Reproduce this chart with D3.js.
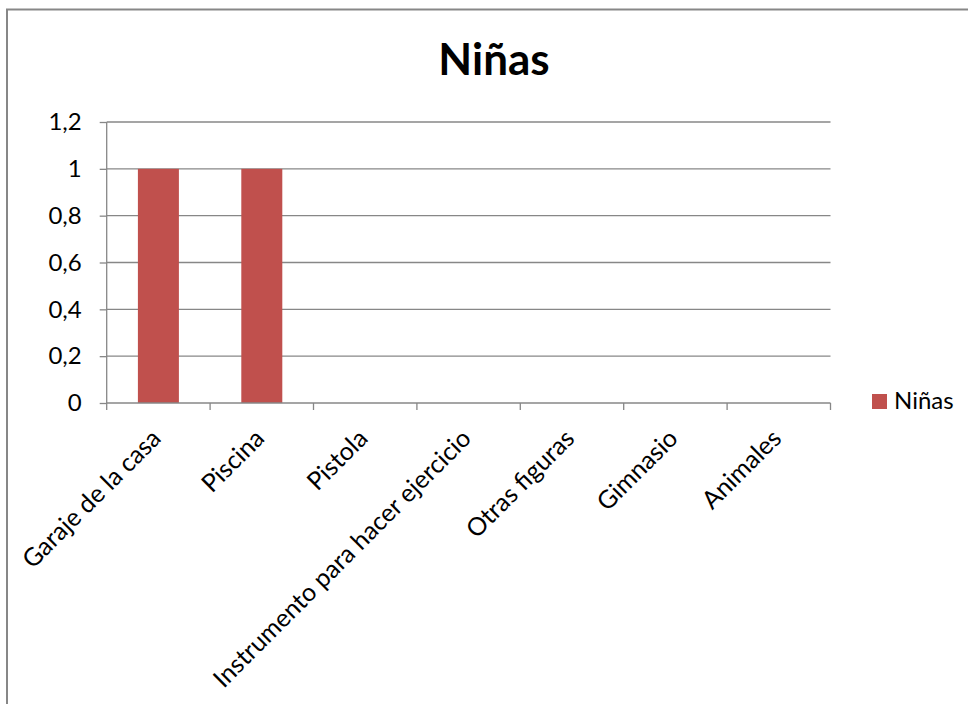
<!DOCTYPE html>
<html>
<head>
<meta charset="utf-8">
<script src="https://cdn.jsdelivr.net/npm/d3@7/dist/d3.min.js"></script>
<style>
  html, body { margin: 0; padding: 0; background: #fff; }
  svg { display: block; font-family: Lato, "Open Sans", sans-serif; }
</style>
</head>
<body>
<svg id="chart" width="968" height="704"></svg>
<script>
const title = "Niñas";
const seriesName = "Niñas";
const categories = ["Garaje de la casa", "Piscina", "Pistola", "Instrumento para hacer ejercicio", "Otras figuras", "Gimnasio", "Animales"];
const values = [1, 1, 0, 0, 0, 0, 0];
const yTicks = [0, 0.2, 0.4, 0.6, 0.8, 1, 1.2];
const yTickLabels = ["0", "0,2", "0,4", "0,6", "0,8", "1", "1,2"];

const svg = d3.select("#chart");
const gray = "#878787";
const barColor = "#C0504D";

// outer border
svg.append("rect").attr("x", 7).attr("y", 9.5).attr("width", 1000).attr("height", 800)
  .attr("fill", "none").attr("stroke", gray).attr("stroke-width", 2);

const x = d3.scaleBand().domain(categories).range([106.7, 830.5]).paddingInner(0).paddingOuter(0);
const y = d3.scaleLinear().domain([0, 1.2]).range([403, 122]);

// gridlines
svg.append("g").selectAll("line").data(yTicks.filter(d => d > 0)).join("line")
  .attr("x1", 106.7).attr("x2", 830.5)
  .attr("y1", d => y(d)).attr("y2", d => y(d))
  .attr("stroke", gray).attr("stroke-width", 1.3);

// y axis
const yAxis = d3.axisLeft(y).tickValues(yTicks).tickSize(7).tickPadding(18)
  .tickFormat((d, i) => yTickLabels[i]);
const gy = svg.append("g").attr("transform", "translate(106.7,0)").call(yAxis);
gy.select(".domain").attr("stroke", gray).attr("stroke-width", 1.3).attr("d", `M0,${y(1.2)}V${y(0)}`);
gy.selectAll(".tick line").attr("stroke", gray).attr("stroke-width", 1.3);
gy.selectAll(".tick text").attr("font-size", 24).attr("fill", "#000").attr("font-family", "Lato, sans-serif");

// bars
const barW = 41;
svg.append("g").selectAll("rect").data(values).join("rect")
  .attr("x", (d, i) => x(categories[i]) + (x.bandwidth() - barW) / 2)
  .attr("width", barW)
  .attr("y", d => y(d))
  .attr("height", d => y(0) - y(d))
  .attr("fill", barColor);

// x axis
const gx = svg.append("g").attr("transform", `translate(0,${y(0)})`);
gx.append("line").attr("x1", 106.7).attr("x2", 830.5).attr("y1", 0).attr("y2", 0)
  .attr("stroke", gray).attr("stroke-width", 1.3);
const edges = categories.map(c => x(c)).concat([x(categories[categories.length - 1]) + x.bandwidth()]);
gx.selectAll("line.t").data(edges).join("line").attr("class", "t")
  .attr("x1", d => d).attr("x2", d => d).attr("y1", 0).attr("y2", 7)
  .attr("stroke", gray).attr("stroke-width", 1.3);
gx.selectAll("text").data(categories).join("text")
  .attr("transform", c => `translate(${x(c) + x.bandwidth() / 2 + 4},${37}) rotate(-45)`)
  .attr("text-anchor", "end")
  .attr("font-size", 25)
  .attr("fill", "#000")
  .text(c => c);

// title
svg.append("text").attr("x", 494).attr("y", 75).attr("text-anchor", "middle")
  .attr("font-size", 44).attr("font-weight", "bold").attr("fill", "#000").text(title);

// legend
svg.append("rect").attr("x", 872).attr("y", 394).attr("width", 15).attr("height", 15).attr("fill", barColor);
svg.append("text").attr("x", 894).attr("y", 401).attr("dy", "0.35em")
  .attr("font-size", 24).attr("fill", "#000").text(seriesName);
</script>
</body>
</html>
